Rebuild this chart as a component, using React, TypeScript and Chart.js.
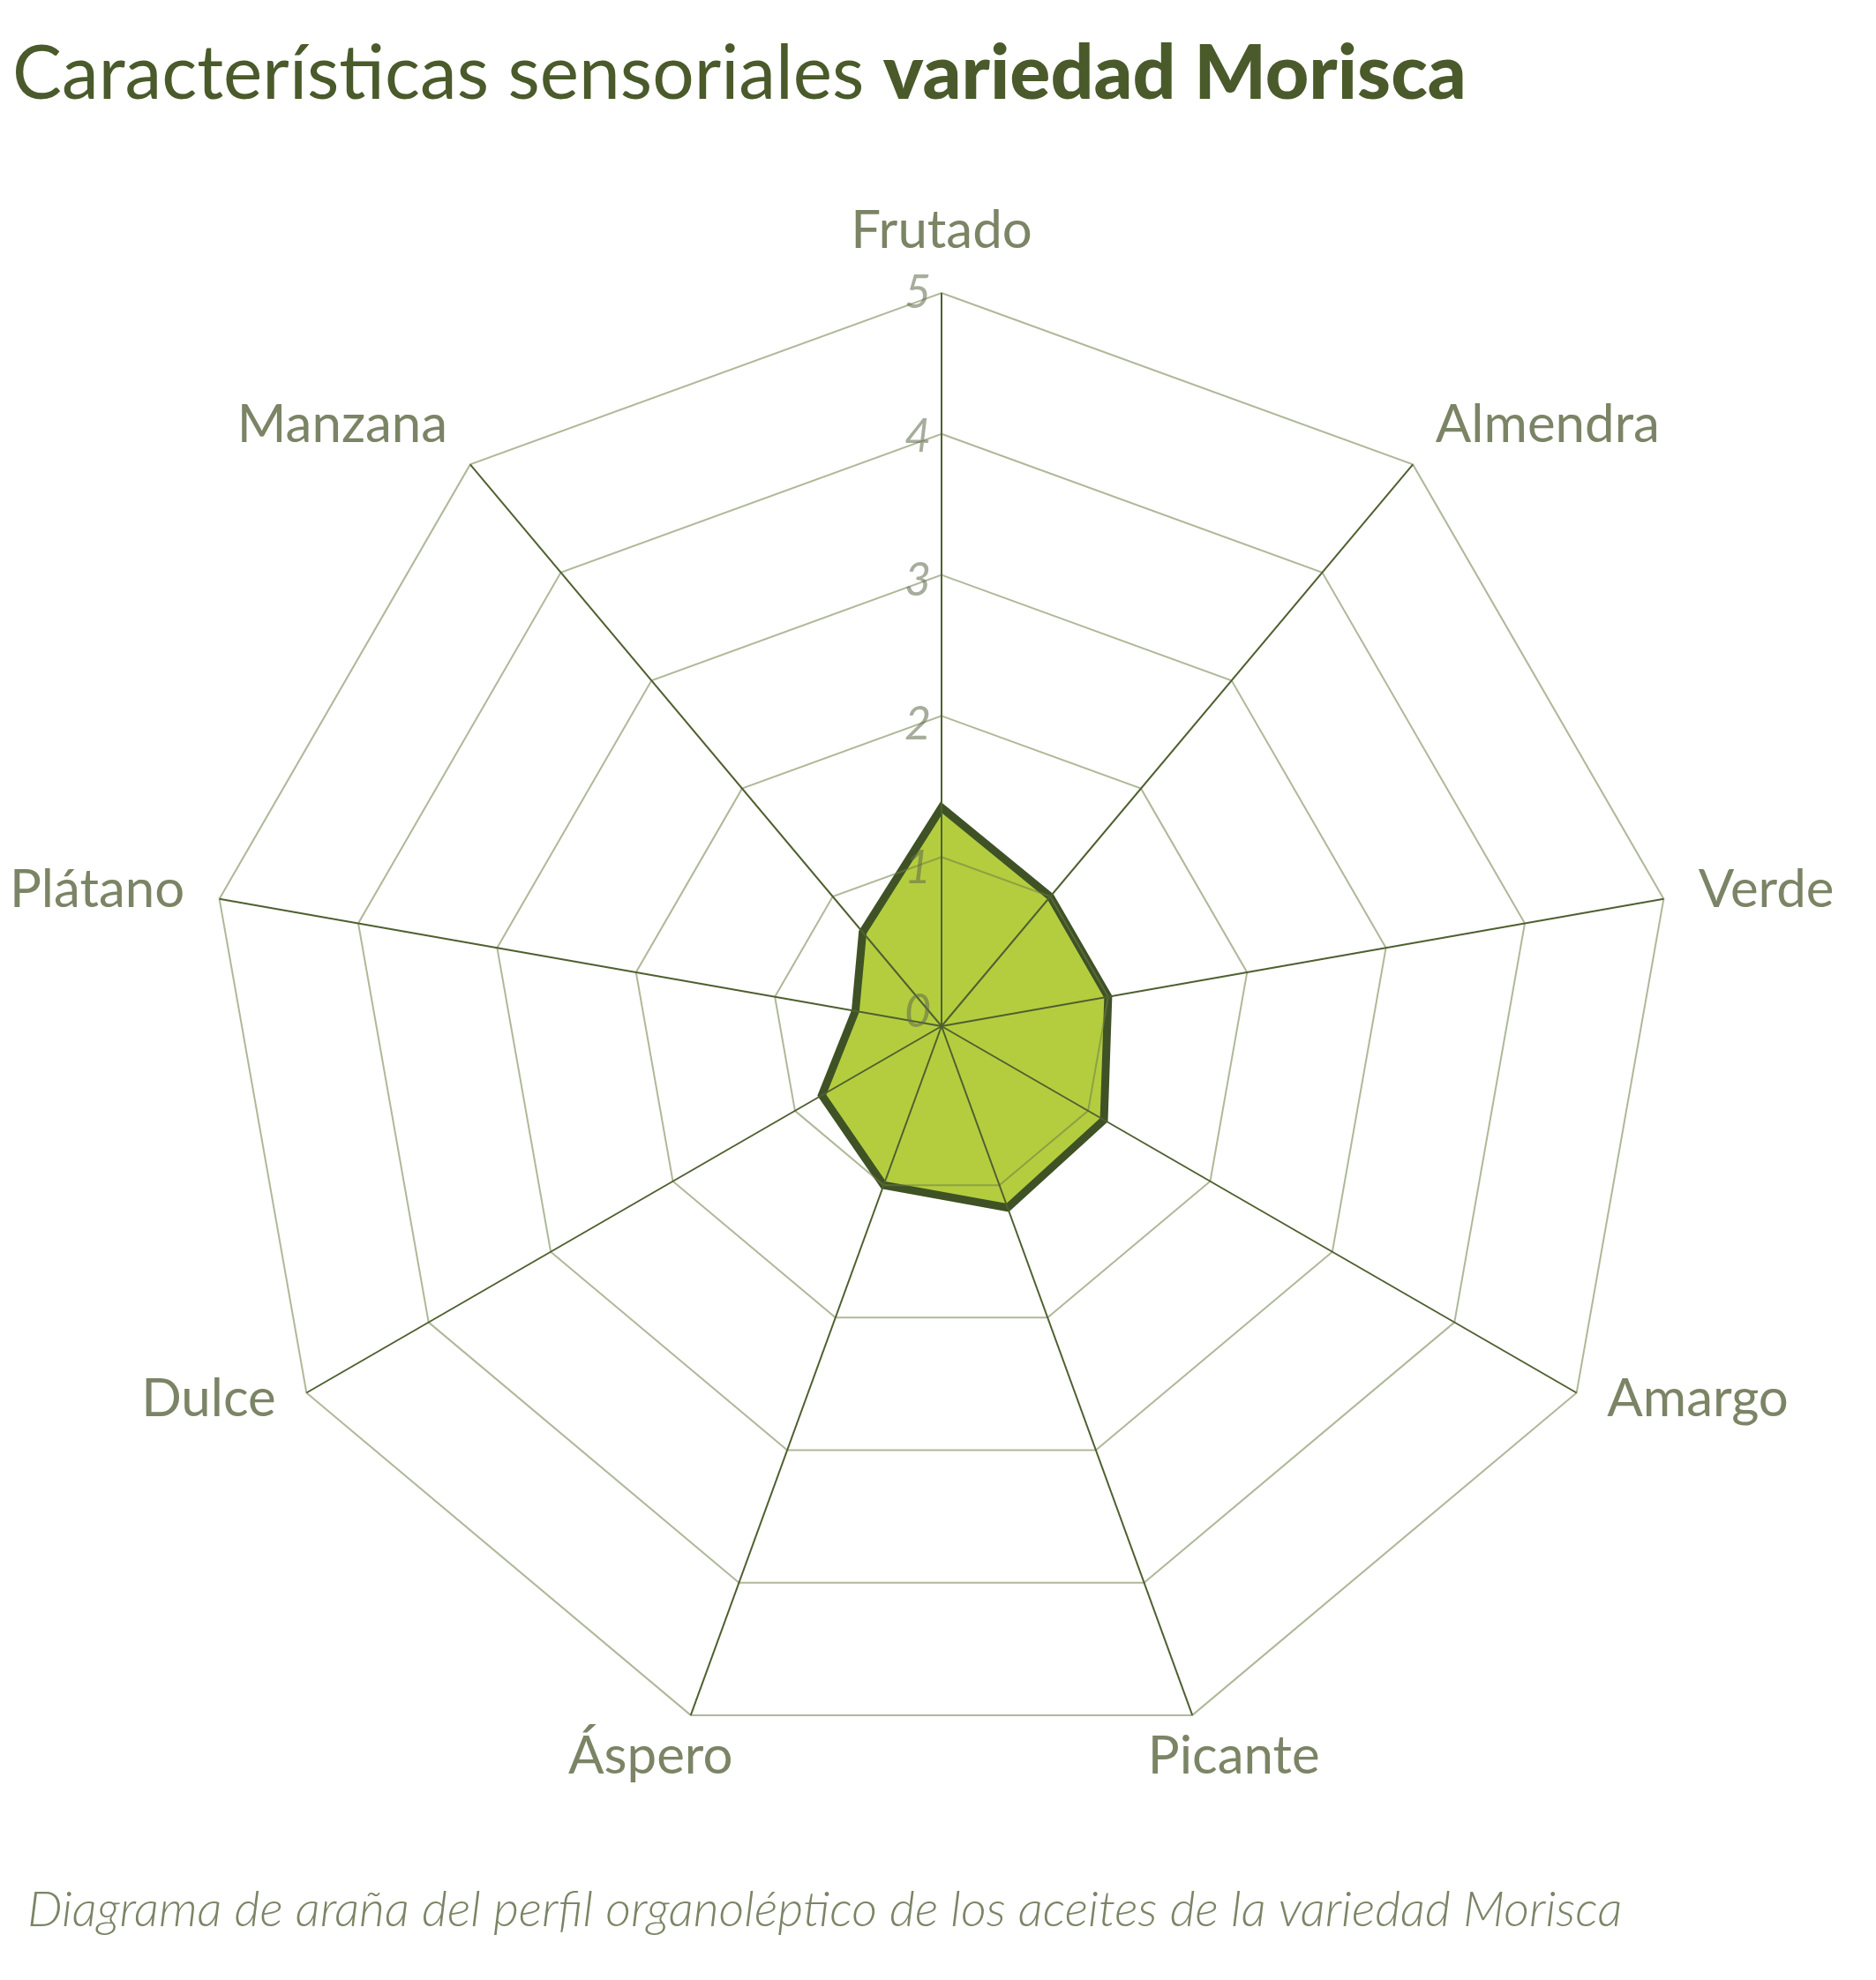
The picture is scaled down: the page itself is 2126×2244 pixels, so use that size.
import React, { useEffect, useRef } from "react";
import { Chart, registerables } from "chart.js";

Chart.register(...registerables);

const CATEGORIES = ["Frutado", "Almendra", "Verde", "Amargo", "Picante", "Áspero", "Dulce", "Plátano", "Manzana"];
const MORISCA_VALUES = [1.35, 1.0, 1.0, 1.13, 1.17, 1.0, 0.78, 0.42, 0.67];
const GRID_VALUES = [1, 2, 3, 4, 5];
const TICK_LABELS = ["0", "1", "2", "3", "4", "5"];
const TITLE_REGULAR = "Características sensoriales ";
const TITLE_BOLD = "variedad Morisca";
const CAPTION = "Diagrama de araña del perfil organoléptico de los aceites de la variedad Morisca";

const FONT = "Lato, 'Noto Sans', sans-serif";
const TITLE_COLOR = "#4a5a2b";
const LABEL_COLOR = "#7b8465";

const decorPlugin = {
  id: "decor",
  afterDraw(chart: any) {
    const ctx = chart.ctx;
    const scale = chart.scales.r;
    ctx.save();

    // tick labels
    ctx.font = `italic 400 52px ${FONT}`;
    ctx.fillStyle = "rgba(95,105,75,0.55)";
    ctx.textAlign = "center";
    ctx.textBaseline = "middle";
    const maxTick = TICK_LABELS.length - 1;
    TICK_LABELS.forEach((t, i) => {
      const linear = (i / maxTick) * scale.drawingArea;
      const onGrid = scale.getDistanceFromCenterForValue(i);
      const d = (linear + onGrid) / 2;
      ctx.fillText(t, scale.xCenter - 27, scale.yCenter - d);
    });

    // point labels
    ctx.font = `60px ${FONT}`;
    ctx.fillStyle = LABEL_COLOR;
    const pad = 40;
    CATEGORIES.forEach((label, i) => {
      const v = scale.getPointPosition(i, scale.drawingArea);
      const theta = v.angle + Math.PI / 2;
      const s = Math.sin(theta);
      const c = Math.cos(theta);
      const w = ctx.measureText(label).width;
      const cy = v.y - 62 * c * Math.abs(c) - 8;
      let cx;
      if (Math.abs(s) > 0.5) {
        cx = s > 0 ? v.x + s * pad + w / 2 : v.x + s * pad - w / 2;
      } else {
        cx = v.x + s * (pad + w / 2);
      }
      ctx.textAlign = "center";
      ctx.fillText(label, cx, cy);
    });

    // title
    ctx.textAlign = "left";
    ctx.textBaseline = "alphabetic";
    ctx.fillStyle = TITLE_COLOR;
    ctx.font = `400 86px ${FONT}`;
    const wReg = ctx.measureText(TITLE_REGULAR).width * 0.975;
    ctx.save();
    ctx.translate(14, 112);
    ctx.scale(0.975, 1);
    ctx.fillText(TITLE_REGULAR, 0, 0);
    ctx.restore();
    ctx.font = `900 86px ${FONT}`;
    ctx.fillText(TITLE_BOLD, 14 + wReg, 112);

    // caption
    ctx.fillStyle = LABEL_COLOR;
    ctx.font = `italic 300 56px ${FONT}`;
    ctx.fillText(CAPTION, 31, 2183);

    ctx.restore();
  },
};

export default function App() {
  const canvasRef = useRef<HTMLCanvasElement | null>(null);

  useEffect(() => {
    if (!canvasRef.current) return;
    const chart = new Chart(canvasRef.current, {
      type: "radar",
      data: {
        labels: CATEGORIES,
        datasets: [
          {
            label: "Morisca",
            data: MORISCA_VALUES,
            backgroundColor: "#b4cd3f",
            borderColor: "#3f5226",
            borderWidth: 9,
            borderJoinStyle: "miter",
            pointRadius: 0,
            pointHoverRadius: 0,
            fill: "start",
            tension: 0,
          },
        ],
      },
      options: {
        responsive: false,
        animation: false,
        events: [],
        layout: { padding: { left: 236, right: 228, top: 332, bottom: 250 } },
        plugins: {
          legend: { display: false },
          title: { display: false },
          tooltip: { enabled: false },
        },
        scales: {
          r: {
            min: -0.2,
            max: 5,
            afterBuildTicks: (s: any) => {
              s.ticks = GRID_VALUES.map((v) => ({ value: v }));
            },
            ticks: { display: false },
            pointLabels: { display: false },
            grid: { z: 1, circular: false, color: "rgba(110,125,70,0.55)", lineWidth: 2 },
            angleLines: { display: true, color: "#4f6030", lineWidth: 2 },
          },
        },
      },
      plugins: [decorPlugin],
    });
    return () => chart.destroy();
  }, []);

  return (
    <canvas
      ref={canvasRef}
      width={2126}
      height={2244}
      style={{ position: "absolute", left: 0, top: 0, width: 2126, height: 2244 }}
    />
  );
}
